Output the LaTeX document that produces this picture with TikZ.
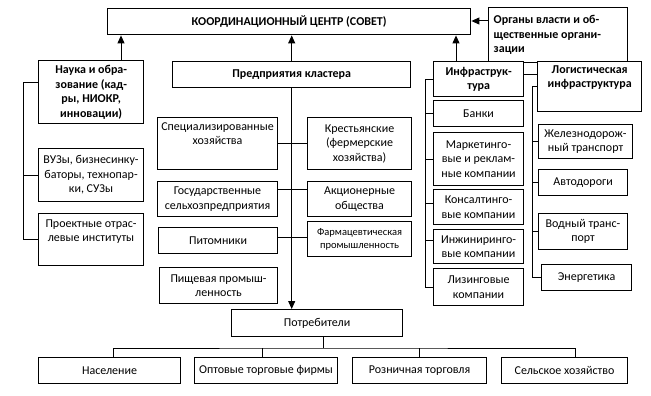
\documentclass[tikz,border=0pt]{standalone}
\usepackage{fontspec}
\setmainfont{Carlito}
\usetikzlibrary{arrows.meta}
\tikzset{
  box/.style={draw=black, line width=1.1pt, fill=white, inner sep=0pt, anchor=north west,
    font=\fontsize{12}{14.5}\selectfont},
  hbox/.style={box, line width=1.4pt, font=\fontsize{12}{14.5}\selectfont\bfseries},
  sbox/.style={box, font=\fontsize{10.5}{13}\selectfont},
  conn/.style={draw=black, line width=1pt},
  arr/.style={conn, -{Triangle[length=8pt,width=7pt]}}
}
\newcommand\bxx[8]{\node[#1] (#2) at (#3,#4) {\parbox[c][\dimexpr #6pt-#4pt\relax][#7]{\dimexpr #5pt-#3pt\relax}{\centering #8\par}};}
\begin{document}
\begin{tikzpicture}[x=1pt,y=-1pt]
\useasboundingbox (0,0) rectangle (651,396);
% headings
\bxx{hbox}{koord}{107}{8}{470}{34}{c}{КООРДИНАЦИОННЫЙ ЦЕНТР (СОВЕТ)}
\bxx{hbox}{organy}{488}{7}{627}{62}{c}{\raggedright\leftskip=5pt Органы власти и об-\\щественные органи-\\зации}
\bxx{hbox}{nauka}{38}{60}{143}{123}{c}{Наука и обра-\\зование (кад-\\ры, НИОКР,\\инновации)}
\bxx{hbox}{pred}{172}{61}{410}{87}{c}{Предприятия кластера}
\bxx{hbox}{infra}{433}{61}{523}{96}{c}{Инфраструк-\\тура}
\bxx{hbox}{logist}{537}{61}{641}{111}{t}{\vspace*{4pt}Логистическая\\инфраструктура}
% science
\bxx{box}{vuz}{38}{148}{143}{201}{c}{ВУЗы, бизнесинку-\\баторы, технопар-\\ки, СУЗы}
\bxx{box}{proekt}{38}{213}{143}{265}{t}{\vspace*{6pt}Проектные отрас-\\левые институты}
% enterprises
\bxx{box}{spec}{157}{117}{277}{169}{t}{\vspace*{5pt}Специализированные\\хозяйства}
\bxx{box}{krest}{307}{117}{411}{169}{c}{Крестьянские\\(фермерские\\хозяйства)}
\bxx{box}{gos}{157}{181}{277}{216}{c}{Государственные\\сельхозпредприятия}
\bxx{box}{akc}{307}{181}{411}{216}{c}{Акционерные\\общества}
\bxx{box}{pit}{158}{227}{277}{253}{c}{Питомники}
\bxx{sbox}{farm}{307}{221}{411}{256}{c}{Фармацевтическая\\промышленность}
\bxx{box}{pish}{159}{267}{277}{303}{c}{Пищевая промыш-\\ленность}
% infrastructure
\bxx{box}{banki}{433}{100}{523}{126}{c}{Банки}
\bxx{box}{mark}{433}{132}{523}{185}{c}{Маркетинго-\\вые и реклам-\\ные компании}
\bxx{box}{kons}{433}{189}{523}{224}{c}{Консалтинго-\\вые компании}
\bxx{box}{inzh}{433}{229}{523}{263}{c}{Инжиниринго-\\вые компании}
\bxx{box}{liz}{433}{268}{523}{305}{c}{Лизинговые\\компании}
% logistics
\bxx{box}{zhel}{538}{124}{632}{158}{c}{Железнодорож-\\ный транспорт}
\bxx{box}{avto}{538}{169}{627}{195}{c}{Автодороги}
\bxx{box}{vod}{538}{213}{627}{249}{c}{Водный транс-\\порт}
\bxx{box}{energ}{541}{264}{631}{290}{c}{Энергетика}
% consumers
\bxx{box}{potr}{231}{309}{402}{336}{c}{Потребители}
\bxx{box}{nasel}{38}{357}{180}{383}{c}{Население}
\bxx{box}{opt}{194}{357}{337}{383}{c}{Оптовые торговые фирмы}
\bxx{box}{rozn}{352}{357}{486}{383}{c}{Розничная торговля}
\bxx{box}{selsk}{501}{357}{627}{383}{c}{Сельское хозяйство}
% arrows to the centre
\draw[arr] (nauka.north -| 121,0) -- (koord.south -| 121,0);
\draw[arr] (pred.north) -- (pred.north |- koord.south);
\draw[arr] (infra.north -| 456,0) -- (koord.south -| 456,0);
\draw[arr] (organy.west |- 0,21) -- (koord.east |- 0,21);
\draw[conn] (infra.east |- 0,75) -- (logist.west |- 0,75);
% science bracket
\coordinate (lb) at (23,83);
\draw[conn] (nauka.west |- lb) -- (lb) |- (proekt.west);
\draw[conn] (vuz.west) -- (lb |- vuz.west);
% enterprises
\draw[arr] (pred.south) -- (pred.south |- potr.north);
\draw[conn] (spec.east) -- (krest.west);
\draw[conn] (gos.east |- 0,189) -- (akc.west |- 0,189);
\draw[conn] (pit.east |- 0,237) -- (farm.west |- 0,237);
% infrastructure bracket
\coordinate (ib) at (425,78);
\draw[conn] (infra.west) -- (ib |- infra.west) |- (liz.west);
\draw[conn] (banki.west) -- (ib |- banki.west);
\draw[conn] (mark.west) -- (ib |- mark.west);
\draw[conn] (kons.west |- 0,203) -- (ib |- 0,203);
\draw[conn] (inzh.west |- 0,240) -- (ib |- 0,240);
% logistics bracket
\coordinate (gb) at (532,86);
\draw[conn] (logist.west) -- (gb |- logist.west) |- (energ.west);
\draw[conn] (zhel.west) -- (gb |- zhel.west);
\draw[conn] (avto.west) -- (gb |- avto.west);
\draw[conn] (vod.west) -- (gb |- vod.west);
% consumers
\coordinate (bus) at (323,348);
\draw[conn] (potr.south -| bus) -- (bus);
\draw[conn] (nasel.north -| 113,0) |- (bus) -| (selsk.north -| 575,0);
\draw[conn] (opt.north -| 262,0) -- (262,348);
\draw[conn] (rozn.north -| 419,0) -- (419,348);
\end{tikzpicture}
\end{document}
